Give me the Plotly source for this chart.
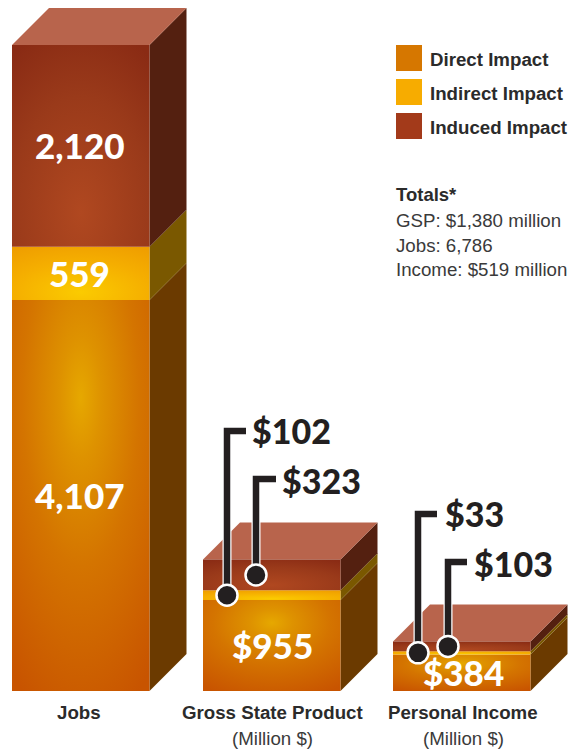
"""Economic impact stacked blocks: jobs, GSP and personal income"""

# %% Imports
import plotly.graph_objects as go

# %% Data
categories = ["Jobs", "Gross State Product", "Personal Income"]
units = ["", "(Million $)", "(Million $)"]
direct = [4107, 955, 384]
indirect = [559, 102, 33]
induced = [2120, 323, 103]
direct_labels = ["4,107", "$955", "$384"]
indirect_labels = ["559", "$102", "$33"]
induced_labels = ["2,120", "$323", "$103"]
impact_names = ["Direct Impact", "Indirect Impact", "Induced Impact"]
totals_title = "Totals*"
totals = ["GSP: $1,380 million", "Jobs: 6,786", "Income: $519 million"]

# %% Layout parameter (page pixels)
W, H = 574, 750
BASE = 691          # page y of value 0
PX = 0.0952         # pixels per unit
BAR_W = 137.5
DEPTH = 37
bar_left = [12, 203, 393]
label_x = [79, 272, 463]
direct_label_y = [495, 645, 672]
# callouts: dot x, elbow page y, end of elbow x, label gap
indirect_call = {1: (227, 431, 246, 4), 2: (418, 514, 437, 6)}
induced_call = {1: (256, 479, 276, 4), 2: (448, 562, 467, 5)}

DIRECT_STOPS = [[0, "#E6A800"], [0.18, "#DE9200"], [0.5, "#D47400"], [1, "#C85400"]]
INDIRECT_STOPS = [[0, "#FBCB00"], [0.6, "#F5AE00"], [1, "#EF9E00"]]
INDUCED_STOPS = [[0, "#B04820"], [0.6, "#9A3A1A"], [1, "#8A2B14"]]
SIDE = {"direct": "#6B3A00", "indirect": "#7A5800", "induced": "#542010"}
TOP = "#B8644C"
INK = "#231F20"
LABEL_FONT = "Lato"
TEXT_FONT = "Liberation Sans"


def val(py):
    """page y -> data value"""
    return (BASE - py) / PX


D = DEPTH / PX  # depth in data units

fig = go.Figure()


def add_poly(xs, ys, color):
    fig.add_trace(go.Scatter(x=xs, y=ys, mode="none", fill="toself",
                             fillcolor=color, hoverinfo="skip",
                             showlegend=False))


def add_front(x0, lo, hi, stops, cy):
    # slivers stretch the bounding box so the radial gradient sits at cy
    cx = x0 + BAR_W / 2
    rx = BAR_W * 0.85
    ry = max(hi - cy, cy - lo) * 1.15
    eps = 0.03
    xs = [x0, x0 + BAR_W, x0 + BAR_W, x0, x0, None,
          cx - rx, cx - rx + eps, cx - rx, None,
          cx + rx, cx + rx - eps, cx + rx]
    ys = [lo, lo, hi, hi, lo, None,
          cy - ry, cy - ry, cy - ry + 0.3, None,
          cy + ry, cy + ry, cy + ry - 0.3]
    fig.add_trace(go.Scatter(x=xs, y=ys, mode="lines", line_width=0,
                             line_simplify=False, fill="toself",
                             fillgradient=dict(type="radial", colorscale=stops),
                             hoverinfo="skip", showlegend=False))


def add_side(x0, lo, hi, color):
    x1 = x0 + BAR_W
    add_poly([x1, x1 + DEPTH, x1 + DEPTH, x1, x1],
             [lo, lo + D, hi + D, hi, lo], color)


# %% Blocks
for i in range(len(categories)):
    x0 = bar_left[i]
    a = direct[i]
    b = a + indirect[i]
    c = b + induced[i]
    add_side(x0, 0, a, SIDE["direct"])
    add_side(x0, a, b, SIDE["indirect"])
    add_side(x0, b, c, SIDE["induced"])
    add_poly([x0, x0 + BAR_W, x0 + BAR_W + DEPTH, x0 + DEPTH, x0],
             [c, c, c + D, c + D, c], TOP)
    add_front(x0, 0, a, DIRECT_STOPS, a - min(a * 0.25, 100 / PX))
    add_front(x0, a, b, INDIRECT_STOPS, a + (b - a) * 0.15)
    add_front(x0, b, c, INDUCED_STOPS, b + (c - b) * 0.17)


# %% Callouts
def add_callout(x, y, elbow, end):
    yy = [y, val(elbow), val(elbow)]
    xx = [x, x, end]
    fig.add_trace(go.Scatter(x=xx, y=yy, mode="lines",
                             line=dict(color="white", width=9),
                             hoverinfo="skip", showlegend=False))
    fig.add_trace(go.Scatter(x=xx, y=yy, mode="lines",
                             line=dict(color=INK, width=6.5),
                             hoverinfo="skip", showlegend=False))
    fig.add_trace(go.Scatter(x=[x], y=[y], mode="markers",
                             marker=dict(color=INK, size=21,
                                         line=dict(color="white", width=2.5)),
                             hoverinfo="skip", showlegend=False))


def add_text(x, py, text, size, color, family, bold=False, anchor="center",
             weight=None):
    fig.add_annotation(x=x, y=val(py), text=text, showarrow=False,
                       xanchor=anchor, yanchor="middle",
                       font=dict(family=family, size=size, color=color,
                                 weight=weight or ("bold" if bold else "normal")))


for i, (x, elbow, end, gap) in indirect_call.items():
    add_callout(x, direct[i] + indirect[i] / 2, elbow, end)
    add_text(end + gap, elbow - 1, indirect_labels[i], 34, INK, LABEL_FONT,
             anchor="left", weight=900)
for i, (x, elbow, end, gap) in induced_call.items():
    add_callout(x, direct[i] + indirect[i] + induced[i] / 2, elbow, end)
    add_text(end + gap, elbow + 1, induced_labels[i], 34, INK, LABEL_FONT,
             anchor="left", weight=900)

# %% Labels on the blocks
add_text(label_x[0], 145, induced_labels[0], 35, "white", LABEL_FONT, weight=900)
add_text(label_x[0], 273, indirect_labels[0], 35, "white", LABEL_FONT, weight=900)
for i in range(3):
    add_text(label_x[i], direct_label_y[i], direct_labels[i], 35, "white",
             LABEL_FONT, weight=900)
    add_text(label_x[i], 712, categories[i], 18.7, "#2B2B2B", TEXT_FONT, bold=True)
    if units[i]:
        add_text(label_x[i], 738, units[i], 18.7, "#3A3A3A", TEXT_FONT)

# %% Legend and totals
legend_colors = ["#D67700", "#F7AC00", "#A33A1A"]
for name, color, py in zip(impact_names, legend_colors, [58, 92, 126]):
    fig.add_shape(type="rect", x0=396, x1=422, y0=val(py - 13), y1=val(py + 13),
                  fillcolor=color, line_width=0)
    add_text(428, py + 1, name, 18.7, "#2B2B2B", TEXT_FONT, bold=True, anchor="left")

add_text(394, 194, totals_title, 18.5, "#2B2B2B", TEXT_FONT, bold=True, anchor="left")
for line, py in zip(totals, [220, 245, 269]):
    add_text(394, py, line, 18.7, "#3A3A3A", TEXT_FONT, anchor="left")

# %% Axes
fig.update_layout(width=W, height=H, margin=dict(l=0, r=0, t=0, b=0),
                  paper_bgcolor="white", plot_bgcolor="white", showlegend=False,
                  xaxis=dict(range=[0, W], visible=False, fixedrange=True),
                  yaxis=dict(range=[val(H), val(0)], visible=False, fixedrange=True))

fig.write_html("out.html", config={"displayModeBar": False},
               post_script="document.body.style.margin='0';"
                           "document.body.style.overflow='hidden';")
